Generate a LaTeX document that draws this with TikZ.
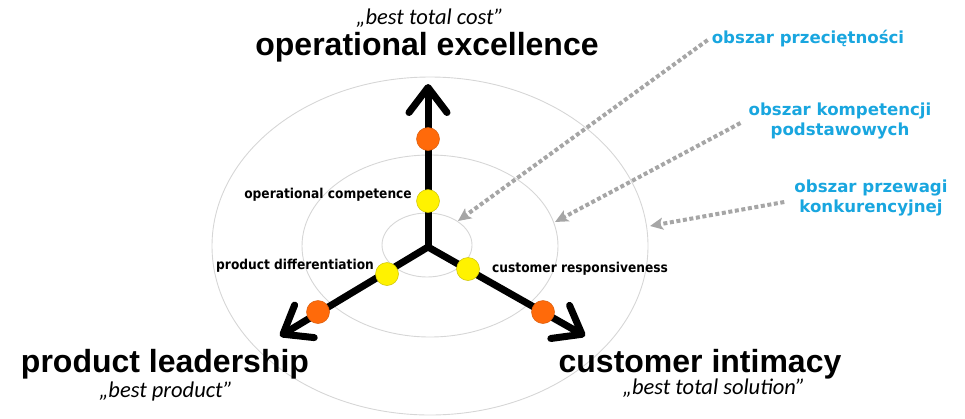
\documentclass[tikz,border=0pt]{standalone}
\usepackage{fontspec}
\usetikzlibrary{arrows.meta}
\newfontfamily\titlefont{Liberation Sans}
\newfontfamily\subfont{Carlito}
\newfontfamily\labfont{DejaVu Sans Condensed}
\newfontfamily\areafont{DejaVu Sans}
\definecolor{ringgray}{HTML}{D6D6D6}
\definecolor{dotgray}{HTML}{A6A6A6}
\definecolor{areablue}{HTML}{19A6DF}
\definecolor{dotorange}{HTML}{FF6A0A}
\definecolor{dotyellow}{HTML}{FFF200}
\tikzset{
  ring/.style={draw=ringgray, line width=0.9pt},
  axis/.style={line width=7pt, line cap=round, line join=round,
    -{Straight Barb[length=25pt, width=38pt, line cap=round, line join=round]}},
  pointer/.style={draw=dotgray, line width=4pt, dash pattern=on 4pt off 2.6pt,
    -{Stealth[length=13pt, width=12pt, inset=3pt]}},
  marker/.style={circle, minimum size=23pt, inner sep=0pt, line width=0.5pt},
  orangedot/.style={marker, fill=dotorange, draw=dotorange!85!black},
  yellowdot/.style={marker, fill=dotyellow, draw=dotyellow!80!black},
  title/.style={font=\titlefont\bfseries\fontsize{32}{36}\selectfont, inner sep=0pt},
  subtitle/.style={font=\subfont\itshape\fontsize{22.5}{26}\selectfont, inner sep=0pt},
  level/.style={font=\labfont\bfseries\fontsize{13.6}{16}\selectfont, inner sep=0pt},
  area/.style={font=\areafont\bfseries\fontsize{16.6}{20.5}\selectfont, text=areablue,
    align=center, inner sep=0pt}
}
\begin{document}
\begin{tikzpicture}[x=1pt, y=-1pt]
\useasboundingbox (0,0) rectangle (965,418);
% rings
\draw[ring] (427,245) ellipse [x radius=45, y radius=32];
\draw[ring] (430,246) ellipse [x radius=128, y radius=91];
\draw[ring] (430,246) ellipse [x radius=218, y radius=169];
% axes
\coordinate (c) at (428,247);
\coordinate (topend) at (428,84);
\coordinate (leftend) at (280,336);
\coordinate (rightend) at (585,336);
\draw[axis] (c) -- (topend);
\draw[axis] (c) -- (leftend);
\draw[axis] (c) -- (rightend);
% markers
\node[orangedot] (o1) at (428,139) {};
\node[yellowdot] (y1) at (428,201) {};
\node[yellowdot] (y2) at (387,274) {};
\node[orangedot] (o2) at (318,312) {};
\node[yellowdot] (y3) at (468,269) {};
\node[orangedot] (o3) at (543,312) {};
% level labels
\node[level, anchor=base east] (lc1) at (412,198) {operational competence};
\node[level, anchor=base west] (lc2) at (216,269) {product differentiation};
\node[level, anchor=base west] (lc3) at (492,272) {customer responsiveness};
% titles
\node[subtitle, anchor=base] (s1) at (430,24) {„best total cost”};
\node[title, anchor=base] (t1) at (427,55) {operational excellence};
\node[title, anchor=base] (t2) at (165,372) {product leadership};
\node[subtitle, anchor=base] (s2) at (166,397) {„best product”};
\node[title, anchor=base] (t3) at (700,372) {customer intimacy};
\node[subtitle, anchor=base] (s3) at (714,394) {„best total solution”};
% area labels
\node[area, anchor=base] (a1) at (808,43) {obszar przeciętności};
\node[area] (a2) at (840,121) {obszar kompetencji\\podstawowych};
\node[area] (a3) at (871,198) {obszar przewagi\\konkurencyjnej};
% pointers
\coordinate (p1) at (458,221);
\coordinate (p2) at (555,222);
\coordinate (p3) at (650,226);
\draw[pointer] ([xshift=-4pt,yshift=-2pt]a1.west) -- (p1);
\draw[pointer] ([xshift=-8pt,yshift=-2pt]a2.west) -- (p2);
\draw[pointer] ([xshift=-10pt,yshift=-4pt]a3.west) -- (p3);
\end{tikzpicture}
\end{document}
